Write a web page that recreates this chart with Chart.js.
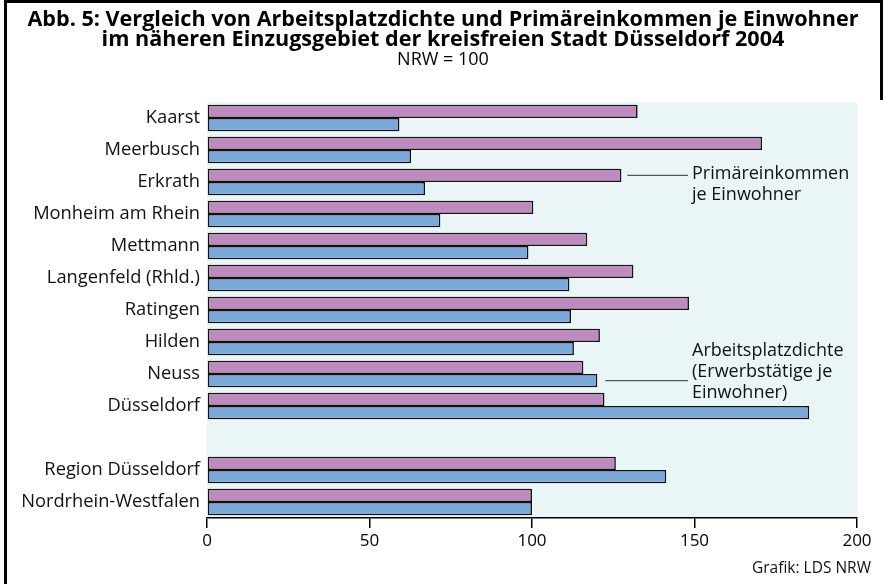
<!DOCTYPE html>
<html>
<head>
<meta charset="utf-8">
<script src="https://cdn.jsdelivr.net/npm/chart.js@4.4.0/dist/chart.umd.min.js"></script>
<style>
  html, body { margin: 0; padding: 0; background: #ffffff; }
  #wrap { position: relative; width: 885px; height: 584px; }
</style>
</head>
<body>
<div id="wrap"><canvas id="c" width="885" height="584"></canvas></div>
<script>
const categories = ['Kaarst', 'Meerbusch', 'Erkrath', 'Monheim am Rhein', 'Mettmann',
  'Langenfeld (Rhld.)', 'Ratingen', 'Hilden', 'Neuss', 'Düsseldorf', '',
  'Region Düsseldorf', 'Nordrhein-Westfalen'];
const primaereinkommen = [132.5, 170.8, 127.5, 100.4, 117.0, 131.2, 148.3, 120.9, 115.8, 122.3, null, 125.8, 100];
const arbeitsplatzdichte = [59.2, 62.8, 67.1, 71.8, 98.9, 111.5, 112.0, 112.9, 120.1, 185.3, null, 141.3, 100];
const xTicks = [0, 50, 100, 150, 200];
const titleLines = ['Abb. 5: Vergleich von Arbeitsplatzdichte und Primäreinkommen je Einwohner',
  'im näheren Einzugsgebiet der kreisfreien Stadt Düsseldorf 2004'];
const subtitle = 'NRW = 100';
const labelPrimaer = ['Primäreinkommen', 'je Einwohner'];
const labelArbeit = ['Arbeitsplatzdichte', '(Erwerbstätige je', 'Einwohner)'];
const source = 'Grafik: LDS NRW';

const FONT = '"Open Sans", "Noto Sans", sans-serif';

const decor = {
  id: 'decor',
  beforeDraw(chart) {
    const { ctx, chartArea: a } = chart;
    ctx.save();
    ctx.fillStyle = '#e9f5f7';
    ctx.fillRect(a.left, a.top, a.right - a.left, a.bottom - a.top);
    ctx.restore();
  },
  afterDraw(chart) {
    const { ctx } = chart;
    ctx.save();
    // frame
    ctx.strokeStyle = '#000';
    ctx.lineWidth = 3;
    ctx.beginPath();
    ctx.moveTo(5.5, 584); ctx.lineTo(5.5, 1.5); ctx.lineTo(881.5, 1.5); ctx.lineTo(881.5, 100);
    ctx.stroke();
    // title
    ctx.fillStyle = '#000';
    ctx.textAlign = 'center';
    ctx.textBaseline = 'middle';
    ctx.font = 'bold 21.6px ' + FONT;
    ctx.fillText(titleLines[0], 443, 20);
    ctx.fillText(titleLines[1], 443, 40);
    ctx.font = '18px ' + FONT;
    ctx.fillText(subtitle, 443, 60);
    // annotations
    const m0 = chart.getDatasetMeta(0).data[2];
    const m1 = chart.getDatasetMeta(1).data[8];
    ctx.strokeStyle = '#555';
    ctx.lineWidth = 1.2;
    ctx.beginPath();
    ctx.moveTo(m0.x + 6, m0.y); ctx.lineTo(688, m0.y);
    ctx.moveTo(m1.x + 8, m1.y); ctx.lineTo(688, m1.y);
    ctx.stroke();
    ctx.textAlign = 'left';
    ctx.font = '18px ' + FONT;
    ctx.fillStyle = '#111';
    labelPrimaer.forEach((t, i) => ctx.fillText(t, 692, m0.y - 1 + i * 21));
    labelArbeit.forEach((t, i) => ctx.fillText(t, 692, m1.y - 30 + i * 21));
    // source
    ctx.textAlign = 'right';
    ctx.font = '15.5px ' + FONT;
    ctx.fillText(source, 871, 569);
    ctx.restore();
  }
};

new Chart(document.getElementById('c'), {
  type: 'bar',
  data: {
    labels: categories,
    datasets: [
      { label: 'Primäreinkommen je Einwohner', data: primaereinkommen,
        backgroundColor: '#bf8bbf', borderColor: '#111', borderWidth: 1.6, borderSkipped: false,
        barPercentage: 1, categoryPercentage: 0.83 },
      { label: 'Arbeitsplatzdichte (Erwerbstätige je Einwohner)', data: arbeitsplatzdichte,
        backgroundColor: '#7ba7d9', borderColor: '#111', borderWidth: 1.6, borderSkipped: false,
        barPercentage: 1, categoryPercentage: 0.83 }
    ]
  },
  options: {
    indexAxis: 'y',
    responsive: false,
    animation: false,
    devicePixelRatio: 1,
    layout: { padding: { left: 0, right: 28, top: 102, bottom: 0 } },
    plugins: { legend: { display: false }, tooltip: { enabled: false }, title: { display: false } },
    scales: {
      x: {
        min: 0, max: 200,
        afterBuildTicks(s) { s.ticks = xTicks.map(v => ({ value: v })); },
        afterFit(s) { s.height = 66; },
        ticks: { color: '#000', font: { family: FONT, size: 17 }, padding: 3, maxRotation: 0 },
        grid: { drawOnChartArea: false, drawTicks: true, tickLength: 10, color: '#000', lineWidth: 1.5 },
        border: { display: true, color: '#000', width: 1.5 }
      },
      y: {
        afterFit(s) { s.width = 207; },
        ticks: { color: '#111', font: { family: FONT, size: 18.3 }, padding: 7, autoSkip: false },
        grid: { display: false, drawTicks: false },
        border: { display: false }
      }
    }
  },
  plugins: [decor]
});
</script>
</body>
</html>
